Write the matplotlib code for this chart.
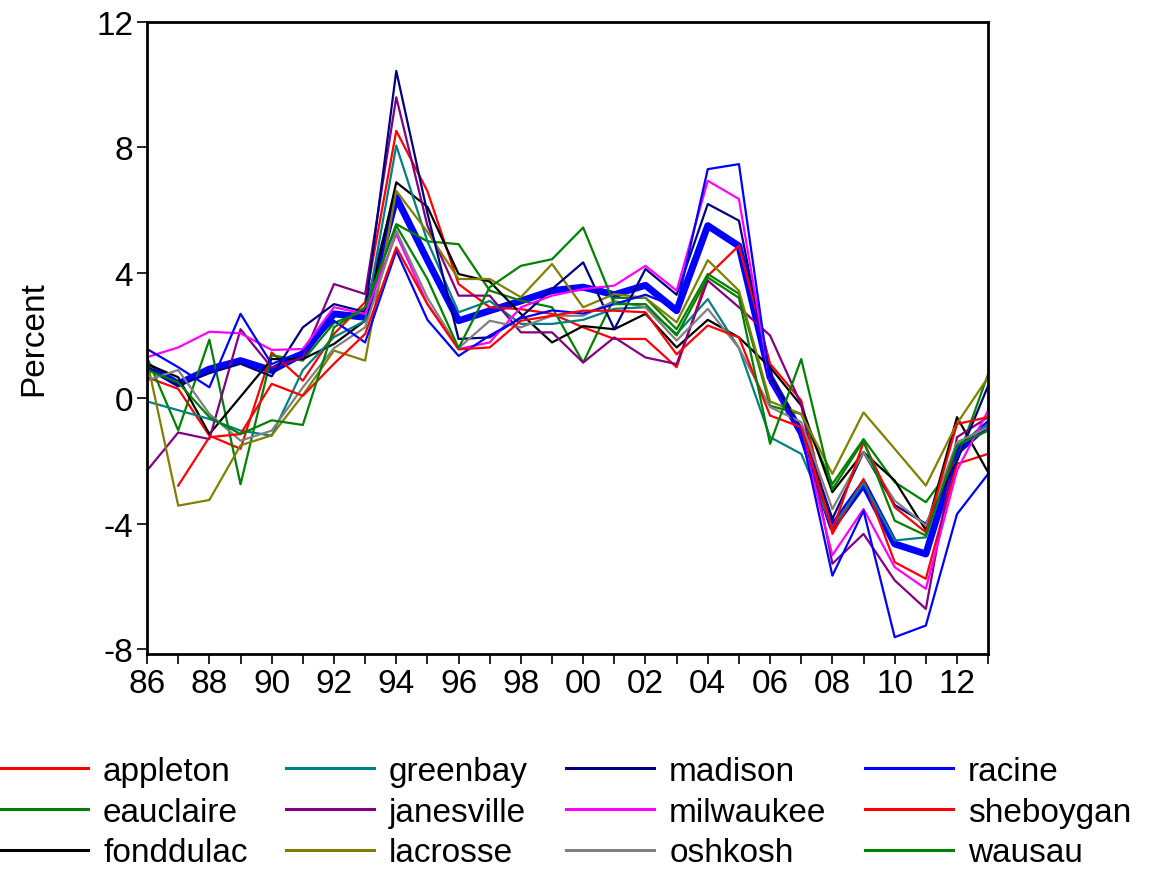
import numpy as np
import matplotlib
matplotlib.use("Agg")
import matplotlib.pyplot as plt
from matplotlib.ticker import MultipleLocator, FuncFormatter

plt.rcParams["font.family"] = ["Liberation Sans", "DejaVu Sans"]
plt.rcParams["axes.unicode_minus"] = False

years = list(range(1986, 2014))
nan = np.nan

# city employment growth, percent
appleton = [0.67, 0.30, -1.19, -1.61, 1.46, 0.56, 2.05, 3.06, 8.52, 6.60, 3.64, 2.90, 2.84, 2.69,
            2.26, 1.89, 1.89, 0.99, 3.90, 4.86, 1.10, -0.07, -4.32, -2.57, -5.22, -5.75, -2.09, -1.77]
eauclaire = [1.30, -1.02, 1.87, -2.74, 1.37, 1.20, 2.40, 2.80, 5.55, 5.00, 4.91, 3.43, 3.11, 2.90,
             1.14, 3.20, 3.20, 2.20, 3.96, 3.33, -0.24, -0.50, -2.73, -1.30, -2.67, -3.31, -1.98, 0.77]
fonddulac = [1.09, 0.67, -1.14, 0.05, 1.25, 1.25, 1.73, 2.47, 6.88, 6.10, 3.96, 3.72, 2.69, 1.78,
             2.30, 2.20, 2.69, 1.62, 2.50, 1.94, 0.99, -0.23, -2.99, -1.72, -2.62, -4.20, -0.60, -2.36]
greenbay = [-0.10, -0.38, -0.66, -1.03, -1.19, 0.90, 1.95, 2.47, 8.05, 5.00, 2.74, 3.10, 2.37, 2.37,
            2.50, 2.85, 2.90, 2.05, 3.16, 1.60, -1.24, -1.77, -4.10, -2.70, -4.53, -4.43, -1.50, -0.82]
janesville = [-2.30, -1.09, -1.30, 2.20, 0.98, 1.30, 3.64, 3.32, 9.59, 5.50, 3.27, 3.27, 2.10, 2.10,
              1.14, 1.94, 1.30, 1.09, 3.75, 2.90, 2.00, -0.20, -5.27, -4.32, -5.80, -6.71, -1.24, -0.60]
lacrosse = [1.20, -3.42, -3.24, -1.50, -1.18, 0.10, 1.52, 1.20, 6.61, 5.30, 3.80, 3.80, 3.22, 4.28,
            2.90, 3.32, 3.20, 2.42, 4.40, 3.43, -0.10, -0.50, -2.41, -0.45, -1.61, -2.78, -0.80, 0.67]
madison = [1.00, 0.40, 0.80, 1.10, 0.70, 2.26, 3.00, 2.75, 10.43, 5.90, 1.89, 1.94, 2.58, 3.48,
           4.33, 2.20, 4.12, 3.30, 6.19, 5.66, 0.70, -1.00, -3.84, -1.72, -3.40, -4.00, -2.00, 0.40]
milwaukee = [1.31, 1.62, 2.12, 2.07, 1.54, 1.57, 2.90, 2.69, 5.23, 3.00, 1.57, 1.78, 2.90, 3.27,
             3.48, 3.59, 4.22, 3.43, 6.93, 6.35, 0.50, -1.10, -5.00, -3.53, -5.38, -6.07, -2.30, -0.39]
oshkosh = [0.57, 0.90, -0.50, -1.35, -1.03, 0.35, 1.60, 2.26, 5.34, 3.20, 1.60, 2.47, 2.26, 2.63,
           2.63, 3.10, 2.90, 1.84, 2.85, 1.60, -0.28, -0.76, -3.53, -1.72, -3.26, -4.05, -1.40, -0.92]
racine = [1.57, 0.99, 0.35, 2.69, 1.09, 1.50, 2.47, 1.78, 4.70, 2.50, 1.35, 2.00, 2.55, 2.80,
          2.70, 3.00, 3.30, 2.90, 7.30, 7.46, 0.50, -1.10, -5.65, -3.58, -7.61, -7.24, -3.69, -2.41]
sheboygan = [nan, -2.78, -1.24, -1.14, 0.46, 0.08, 1.10, 2.05, 4.81, 3.00, 1.56, 1.62, 2.47, 2.63,
             2.79, 2.79, 2.74, 1.40, 2.32, 1.94, -0.55, -0.92, -4.20, -1.40, -3.47, -4.27, -0.82, -0.60]
wausau = [0.90, 0.50, -0.60, -1.14, -0.70, -0.85, 2.26, 2.90, 5.50, 3.80, 1.60, 3.54, 4.22, 4.43,
          5.44, 3.00, 3.00, 2.00, 3.85, 3.20, -1.45, 1.25, -2.90, -1.35, -3.90, -4.37, -1.50, -1.03]
# the thick blue line (state level)
state = [1.04, 0.46, 0.93, 1.20, 0.89, 1.41, 2.69, 2.58, 6.40, 4.40, 2.47, 2.79, 3.10, 3.43,
         3.54, 3.30, 3.60, 2.79, 5.50, 4.85, 0.67, -1.10, -4.10, -2.73, -4.64, -4.96, -1.70, -0.82]

series = [
    ("appleton", appleton, "#FF0000"),
    ("eauclaire", eauclaire, "#008000"),
    ("fonddulac", fonddulac, "#000000"),
    ("greenbay", greenbay, "#008080"),
    ("janesville", janesville, "#800080"),
    ("lacrosse", lacrosse, "#808000"),
    ("madison", madison, "#000080"),
    ("milwaukee", milwaukee, "#FF00FF"),
    ("oshkosh", oshkosh, "#808080"),
    ("racine", racine, "#0000FF"),
    ("sheboygan", sheboygan, "#FF0000"),
    ("wausau", wausau, "#008000"),
]

fig = plt.figure(figsize=(11.49, 8.70), dpi=100)
ax = fig.add_axes([0.128, 0.247, 0.732, 0.727])

ax.plot(years, state, color="#0000FF", linewidth=5)
for name, vals, col in series:
    ax.plot(years, vals, color=col, linewidth=1.6, label=name)

ax.set_xlim(1986, 2013)
ax.set_ylim(-8.15, 12)
ax.yaxis.set_major_locator(MultipleLocator(4))
ax.xaxis.set_major_locator(MultipleLocator(2))
ax.xaxis.set_minor_locator(MultipleLocator(1))
ax.xaxis.set_major_formatter(FuncFormatter(lambda v, p: "%02d" % (int(round(v)) % 100)))
ax.tick_params(axis="both", which="both", direction="out", length=7, width=1.2,
               labelsize=24, pad=3)
for s in ax.spines.values():
    s.set_linewidth(2)

ax.set_ylabel("Percent", fontsize=24, labelpad=34)

leg = fig.legend(loc="upper left", bbox_to_anchor=(0.0, 0.130), ncol=4, frameon=False,
                 fontsize=24, handlelength=2.64, handletextpad=0.45, columnspacing=1.15,
                 labelspacing=0.29, borderpad=0, borderaxespad=0)
for h in leg.get_lines():
    h.set_linewidth(2.2)

fig.savefig("out.png", dpi=100)
